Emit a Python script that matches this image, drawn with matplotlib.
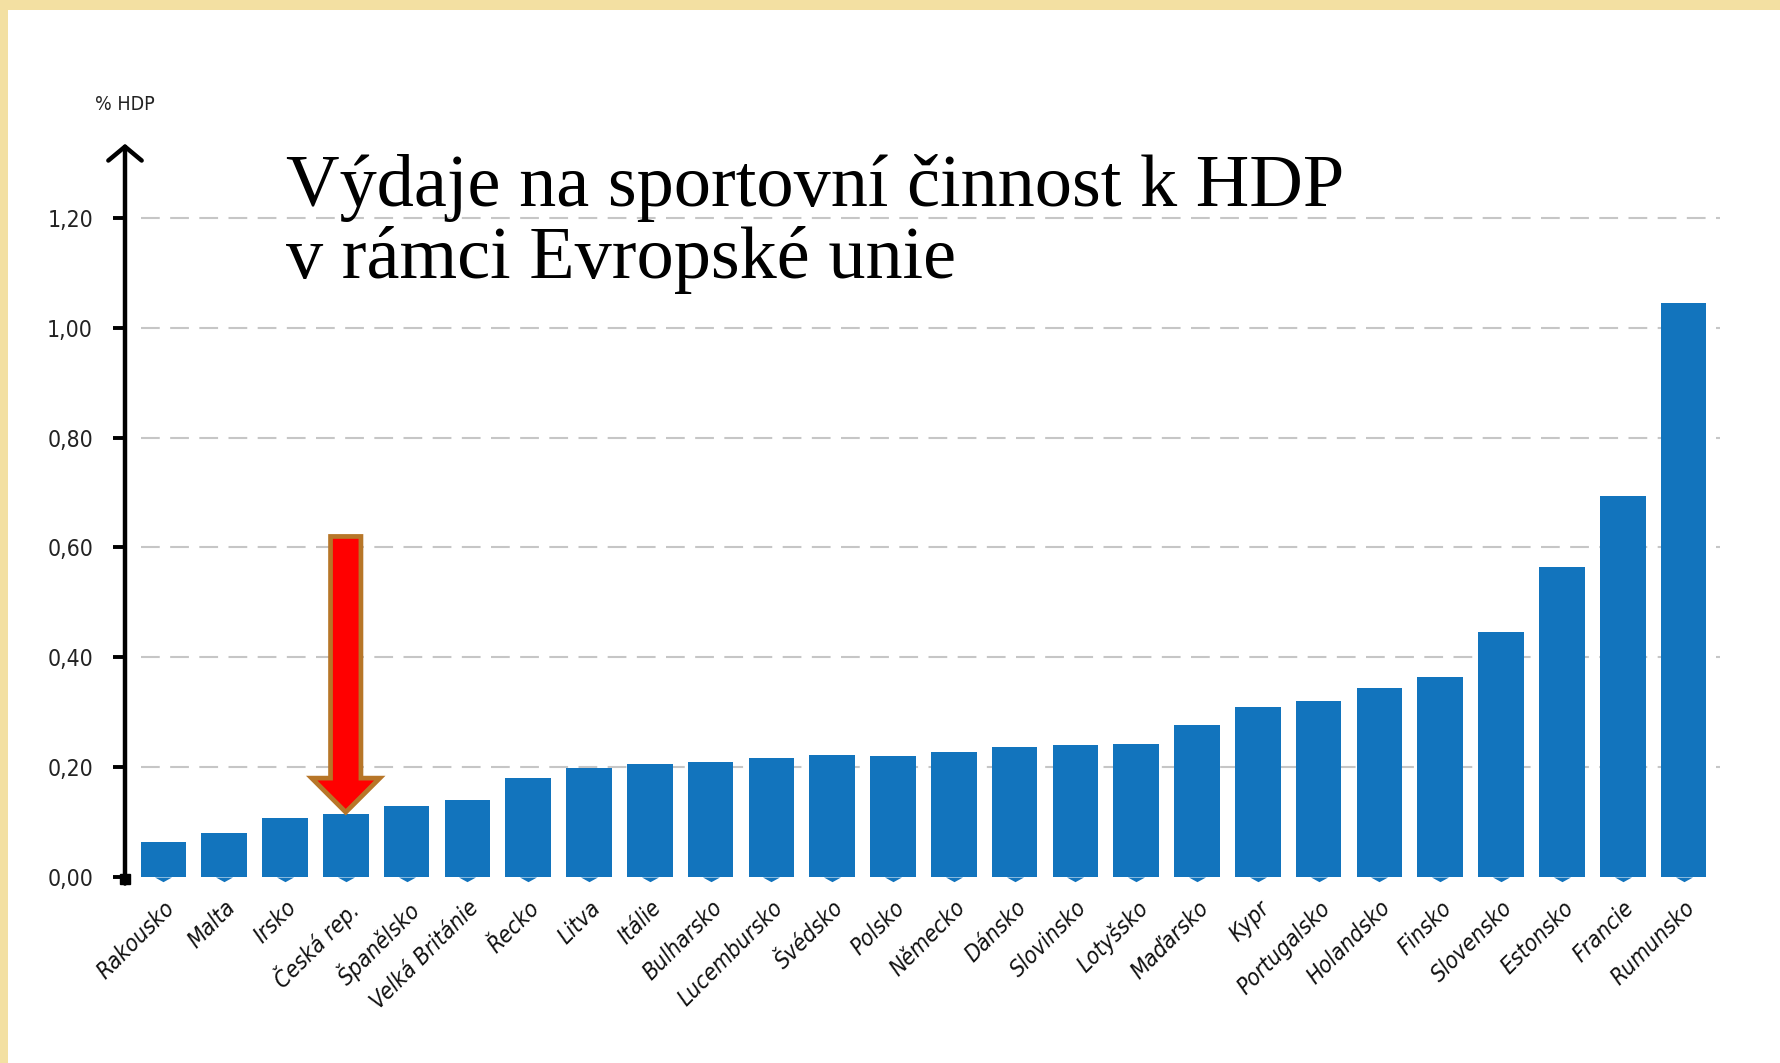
import numpy as np
import matplotlib
matplotlib.use('Agg')
import matplotlib.pyplot as plt
from matplotlib.patches import Rectangle, FancyArrow

# Data (% HDP)
zeme = ['Rakousko', 'Malta', 'Irsko', 'Česká rep.', 'Španělsko', 'Velká Británie',
        'Řecko', 'Litva', 'Itálie', 'Bulharsko', 'Lucembursko', 'Švédsko', 'Polsko',
        'Německo', 'Dánsko', 'Slovinsko', 'Lotyšsko', 'Maďarsko', 'Kypr',
        'Portugalsko', 'Holandsko', 'Finsko', 'Slovensko', 'Estonsko', 'Francie',
        'Rumunsko']
vydaje = [0.064, 0.081, 0.108, 0.114, 0.129, 0.141, 0.180, 0.199, 0.205, 0.210,
          0.216, 0.223, 0.220, 0.227, 0.237, 0.241, 0.242, 0.277, 0.309, 0.320,
          0.345, 0.365, 0.446, 0.565, 0.693, 1.045]
yticks = [0.0, 0.2, 0.4, 0.6, 0.8, 1.0, 1.2]
ytick_labels = ['0,00', '0,20', '0,40', '0,60', '0,80', '1,00', '1,20']
zvyraznit = 'Česká rep.'

modra = '#1274bd'
uzky = ['Liberation Sans Narrow', 'DejaVu Sans']

W, H = 1781, 1063
fig = plt.figure(figsize=(W / 100, H / 100), dpi=100)
fig.patch.set_facecolor('#f3e0a2')
fig.patches.append(Rectangle((8 / W, 0), 1, 1 - 10 / H, transform=fig.transFigure,
                             facecolor='white', edgecolor='none', zorder=-5))

ax = fig.add_axes([125 / W, 1 - 877 / H, (1720 - 125) / W, 0.5167 * 1.33])
ax.set_facecolor('none')
ax.set_zorder(2)

x = np.arange(len(zeme))
ax.bar(x, vydaje, width=0.75, color=modra, zorder=3)
# small flat notches under each bar
zarez = [(-1, 0), (1, 0), (0, -0.55), (-1, 0)]
ax.scatter(x, np.zeros(len(x)), marker=zarez, s=150, color=modra,
           linewidths=0, zorder=3, clip_on=False)

ax.set_xlim(-0.63, len(zeme) - 1 + 0.6)
ax.set_ylim(0, 1.33)

for s in ['top', 'right', 'bottom', 'left']:
    ax.spines[s].set_visible(False)

# dashed grid
for v in yticks[1:]:
    ax.axhline(v, xmin=0.01, xmax=1, color='#c6c6c6', lw=1.5,
               linestyle=(0, (9, 5)), zorder=1)

# y axis with arrow
ax.annotate('', xy=(0, 1.335), xytext=(0, -0.012),
            xycoords=('axes fraction', 'data'), textcoords=('axes fraction', 'data'),
            arrowprops=dict(arrowstyle='->,head_length=1.0,head_width=1.2',
                            lw=3.2, color='black', shrinkA=0, shrinkB=0),
            annotation_clip=False)
ax.plot([0], [-0.004], marker='s', ms=7.5, color='black',
        transform=ax.get_yaxis_transform(), clip_on=False, zorder=5)

ax.set_yticks(yticks)
ax.set_yticklabels(ytick_labels, family=uzky, stretch='condensed', fontsize=16.5,
                   color='#222222')
ax.tick_params(axis='y', length=9, width=2.8, pad=14, color='black')

ax.set_xticks(x)
ax.set_xticklabels(zeme, rotation=45, ha='right', rotation_mode='anchor',
                   family=uzky, stretch='condensed', style='italic', fontsize=16.5,
                   color='#111111')
ax.tick_params(axis='x', length=0, pad=14)

fig.text(125 / W, 1 - 104 / H, '% HDP', family=uzky, stretch='condensed',
         fontsize=14, ha='center', va='center', color='#222222')

# title
fig.text(286 / W, 1 - 206 / H, 'Výdaje na sportovní činnost k HDP',
         family='Liberation Serif', fontsize=53.5, va='baseline', ha='left')
fig.text(286 / W, 1 - 278 / H, 'v rámci Evropské unie',
         family='Liberation Serif', fontsize=53.5, va='baseline', ha='left')

# red arrow pointing at Czech Republic
i = zeme.index(zvyraznit)
tip = vydaje[i] + 0.004
top = 0.62
sipka = FancyArrow(i, top, 0, -(top - tip), width=0.5, head_width=1.12,
                   head_length=0.062, length_includes_head=True,
                   facecolor='#ff0000', edgecolor='#b77628', lw=3.4, zorder=6,
                   clip_on=False)
ax.add_patch(sipka)

fig.savefig('out.png', dpi=100, facecolor=fig.get_facecolor())
